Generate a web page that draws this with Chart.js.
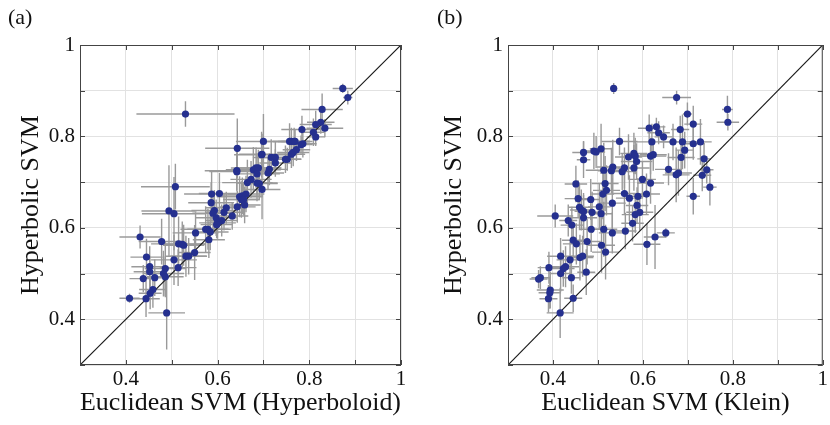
<!DOCTYPE html>
<html lang="en">
<head>
  <meta charset="UTF-8">
  <title>Hyperbolic vs Euclidean SVM</title>
  <script src="https://cdn.jsdelivr.net/npm/chart.js"></script>
  <style>
    body { margin: 0; background: #fff; }
    #wrap { position: relative; width: 830px; height: 425px; }
    .panel { position: absolute; top: 0; }
    .tag { position: absolute; top: 4px; font: 22px "Liberation Serif", serif; color: #111; }
  </style>
</head>
<body>
  <div id="wrap">
    <canvas id="chartA" class="panel" width="415" height="425" style="left:0"></canvas>
    <canvas id="chartB" class="panel" width="415" height="425" style="left:415px"></canvas>
    <div class="tag" style="left:8px">(a)</div>
    <div class="tag" style="left:437px">(b)</div>
  </div>

  <script>
    // axis ticks
    const axisMin = 0.3, axisMax = 1;
    const tickLabels = ['0.4', '0.6', '0.8', '1'];
    const diagonal = [0.3, 1];

    // panel (a): Euclidean SVM (Hyperboloid) vs Hyperbolic SVM
    const xA = [0.873,0.884,0.530,0.828,0.825,0.814,0.834,0.784,0.809,0.814,0.757,0.761,0.767,0.769,0.786,0.782,
      0.700,0.643,0.772,0.765,0.697,0.696,0.717,0.726,0.761,0.748,0.752,0.726,0.642,0.642,0.678,0.684,0.689,
      0.713,0.710,0.686,0.673,0.665,0.686,0.691,0.697,0.508,0.587,0.604,0.648,0.654,0.662,0.652,0.657,0.586,
      0.659,0.643,0.494,0.505,0.619,0.593,0.590,0.614,0.632,0.597,0.609,0.600,0.598,0.574,0.579,0.584,0.552,
      0.581,0.431,0.478,0.515,0.523,0.526,0.550,0.531,0.537,0.445,0.505,0.452,0.486,0.514,0.452,0.482,0.486,
      0.463,0.438,0.459,0.453,0.444,0.408,0.489];
    const yA = [0.905,0.885,0.849,0.859,0.831,0.826,0.818,0.815,0.809,0.799,0.789,0.789,0.789,0.789,0.784,0.782,
      0.789,0.774,0.771,0.765,0.761,0.760,0.754,0.754,0.761,0.750,0.750,0.742,0.725,0.723,0.727,0.731,0.731,
      0.728,0.720,0.718,0.706,0.699,0.698,0.697,0.684,0.690,0.674,0.675,0.668,0.670,0.674,0.662,0.662,0.655,
      0.650,0.646,0.637,0.631,0.644,0.638,0.632,0.634,0.626,0.622,0.616,0.611,0.607,0.597,0.597,0.591,0.589,
      0.574,0.580,0.570,0.565,0.564,0.562,0.546,0.538,0.538,0.536,0.530,0.515,0.511,0.513,0.504,0.500,0.493,
      0.491,0.489,0.465,0.457,0.445,0.446,0.414];
    const xErrA = [0.022,0.010,0.107,0.045,0.030,0.035,0.040,0.045,0.025,0.020,0.050,0.040,0.035,0.030,0.030,0.025,
      0.060,0.070,0.030,0.035,0.050,0.060,0.040,0.040,0.030,0.035,0.030,0.035,0.070,0.060,0.060,0.055,0.050,
      0.040,0.035,0.050,0.045,0.055,0.045,0.040,0.040,0.075,0.060,0.045,0.050,0.045,0.040,0.040,0.035,0.050,
      0.035,0.040,0.060,0.070,0.045,0.050,0.045,0.040,0.035,0.045,0.035,0.040,0.035,0.055,0.045,0.040,0.050,
      0.035,0.045,0.050,0.060,0.050,0.045,0.035,0.045,0.040,0.035,0.050,0.040,0.045,0.040,0.035,0.045,0.040,
      0.030,0.030,0.030,0.025,0.030,0.022,0.040];
    const yErrA = [0.010,0.015,0.028,0.035,0.025,0.030,0.020,0.030,0.030,0.020,0.040,0.030,0.030,0.025,0.030,0.020,
      0.060,0.065,0.025,0.030,0.045,0.050,0.040,0.035,0.030,0.030,0.025,0.030,0.045,0.040,0.050,0.045,0.040,
      0.035,0.035,0.045,0.040,0.050,0.040,0.035,0.065,0.050,0.050,0.045,0.045,0.040,0.040,0.040,0.035,0.045,
      0.040,0.035,0.100,0.080,0.035,0.045,0.040,0.040,0.030,0.040,0.035,0.035,0.030,0.050,0.045,0.040,0.045,
      0.040,0.025,0.050,0.060,0.050,0.045,0.060,0.045,0.040,0.040,0.055,0.045,0.060,0.040,0.035,0.050,0.045,
      0.040,0.030,0.040,0.035,0.040,0.010,0.080];

    // panel (b): Euclidean SVM (Klein) vs Hyperbolic SVM
    const xB = [0.535,0.675,0.788,0.789,0.699,0.712,0.614,0.630,0.635,0.646,0.683,0.620,0.548,0.667,0.688,0.728,
      0.712,0.507,0.491,0.496,0.468,0.693,0.580,0.583,0.568,0.617,0.623,0.685,0.468,0.586,0.736,0.533,0.580,
      0.559,0.513,0.530,0.554,0.657,0.674,0.679,0.742,0.732,0.451,0.599,0.617,0.516,0.749,0.519,0.511,0.559,
      0.608,0.712,0.456,0.570,0.589,0.484,0.532,0.587,0.459,0.463,0.468,0.503,0.487,0.507,0.593,0.583,0.405,
      0.468,0.434,0.442,0.577,0.485,0.513,0.561,0.532,0.651,0.627,0.445,0.476,0.452,0.609,0.508,0.517,0.417,
      0.460,0.466,0.438,0.391,0.428,0.423,0.417,0.474,0.441,0.372,0.368,0.394,0.393,0.390,0.445,0.416];
    const yB = [0.905,0.885,0.859,0.831,0.849,0.827,0.818,0.821,0.808,0.799,0.815,0.788,0.789,0.788,0.788,0.788,
      0.784,0.773,0.768,0.766,0.765,0.770,0.763,0.757,0.755,0.757,0.760,0.754,0.749,0.745,0.751,0.733,0.731,
      0.731,0.726,0.725,0.723,0.728,0.716,0.720,0.727,0.715,0.696,0.706,0.698,0.697,0.689,0.682,0.674,0.675,
      0.674,0.669,0.664,0.665,0.669,0.662,0.654,0.649,0.645,0.639,0.636,0.646,0.634,0.631,0.634,0.629,0.626,
      0.622,0.616,0.606,0.610,0.597,0.597,0.593,0.589,0.589,0.580,0.573,0.570,0.565,0.564,0.562,0.547,0.538,
      0.535,0.538,0.530,0.513,0.515,0.511,0.500,0.503,0.491,0.491,0.488,0.464,0.458,0.445,0.446,0.414];
    const xErrB = [0.008,0.032,0.012,0.025,0.010,0.020,0.025,0.020,0.025,0.020,0.020,0.040,0.040,0.030,0.030,0.025,
      0.025,0.025,0.020,0.020,0.025,0.020,0.030,0.025,0.030,0.035,0.030,0.030,0.015,0.035,0.015,0.035,0.035,
      0.030,0.040,0.030,0.030,0.030,0.030,0.030,0.015,0.020,0.025,0.030,0.030,0.030,0.015,0.030,0.025,0.025,
      0.030,0.015,0.030,0.030,0.025,0.020,0.030,0.025,0.025,0.025,0.020,0.025,0.020,0.025,0.030,0.030,0.040,
      0.030,0.020,0.025,0.025,0.025,0.030,0.025,0.030,0.020,0.025,0.025,0.030,0.030,0.030,0.030,0.030,0.030,
      0.030,0.025,0.030,0.025,0.030,0.025,0.025,0.020,0.020,0.020,0.020,0.030,0.025,0.020,0.020,0.030];
    const yErrB = [0.012,0.015,0.030,0.018,0.025,0.040,0.030,0.020,0.025,0.025,0.030,0.040,0.030,0.040,0.060,0.050,
      0.035,0.055,0.040,0.035,0.025,0.040,0.045,0.040,0.050,0.040,0.035,0.040,0.040,0.040,0.035,0.060,0.050,
      0.045,0.060,0.050,0.040,0.035,0.060,0.050,0.030,0.035,0.040,0.040,0.045,0.060,0.040,0.055,0.055,0.045,
      0.045,0.040,0.040,0.050,0.040,0.045,0.055,0.040,0.050,0.045,0.040,0.050,0.045,0.040,0.040,0.040,0.025,
      0.050,0.035,0.040,0.040,0.050,0.060,0.040,0.045,0.010,0.070,0.040,0.050,0.045,0.045,0.060,0.060,0.040,
      0.050,0.045,0.040,0.035,0.045,0.040,0.040,0.050,0.035,0.025,0.020,0.040,0.035,0.030,0.030,0.055];

    const serif = '"Liberation Serif", "Times New Roman", serif';

    // error bars under the dots, inward ticks on the four sides
    const errorBars = {
      id: 'errorBars',
      beforeDatasetsDraw(chart) {
        const { ctx, scales: { x, y } } = chart;
        const pts = chart.data.datasets[0].data;
        ctx.save();
        ctx.strokeStyle = '#9a9a9a';
        ctx.lineWidth = 1.4;
        pts.forEach(p => {
          const px = x.getPixelForValue(p.x), py = y.getPixelForValue(p.y);
          ctx.beginPath();
          ctx.moveTo(x.getPixelForValue(p.x - p.xe), py);
          ctx.lineTo(x.getPixelForValue(p.x + p.xe), py);
          ctx.moveTo(px, y.getPixelForValue(p.y - p.ye));
          ctx.lineTo(px, y.getPixelForValue(p.y + p.ye));
          ctx.stroke();
        });
        ctx.restore();
      },
      afterDraw(chart) {
        const { ctx, chartArea: a, scales: { x, y } } = chart;
        ctx.save();
        ctx.strokeStyle = '#444';
        ctx.lineWidth = 1;
        ctx.beginPath();
        x.ticks.forEach(t => {
          const px = Math.round(x.getPixelForValue(t.value)) + 0.5;
          ctx.moveTo(px, a.bottom); ctx.lineTo(px, a.bottom - 5);
          ctx.moveTo(px, a.top); ctx.lineTo(px, a.top + 5);
        });
        y.ticks.forEach(t => {
          const py = Math.round(y.getPixelForValue(t.value)) + 0.5;
          ctx.moveTo(a.left, py); ctx.lineTo(a.left + 5, py);
          ctx.moveTo(a.right, py); ctx.lineTo(a.right - 5, py);
        });
        ctx.stroke();
        ctx.strokeRect(a.left + 0.5, a.top + 0.5, a.right - a.left - 1, a.bottom - a.top - 1);
        ctx.restore();
      }
    };

    function tickText(value) {
      const v = (Math.round(value * 10) / 10).toString();
      return tickLabels.includes(v) ? v : '';
    }

    function makePanel(id, xs, ys, xe, ye, xTitle, yWidth, yTitlePad, rightPad) {
      const pts = xs.map((v, i) => ({ x: v, y: ys[i], xe: xe[i], ye: ye[i] }));
      const axis = (title, isX) => ({
        type: 'linear',
        min: axisMin,
        max: axisMax,
        ticks: {
          stepSize: 0.1,
          callback: tickText,
          autoSkip: false,
          maxRotation: 0,
          padding: isX ? 2 : 5,
          color: '#111',
          font: { family: serif, size: 21 }
        },
        grid: { color: '#e2e2e2', lineWidth: 1, drawTicks: false },
        border: { display: false },
        title: {
          display: true,
          text: title,
          color: '#111',
          font: { family: serif, size: 26 },
          padding: isX ? { top: 0, bottom: 6 } : { top: yTitlePad, bottom: 0 }
        },
        afterFit(scale) {
          if (isX) scale.height = 60; else scale.width = yWidth;
        }
      });
      return new Chart(document.getElementById(id), {
        type: 'scatter',
        data: {
          datasets: [
            {
              data: pts,
              pointRadius: 3.6,
              pointBackgroundColor: '#25308f',
              pointBorderWidth: 0,
              pointHoverRadius: 3.6
            },
            {
              data: diagonal.map(v => ({ x: v, y: v })),
              showLine: true,
              borderColor: '#1a1a1a',
              borderWidth: 1.2,
              pointRadius: 0
            }
          ]
        },
        options: {
          responsive: false,
          animation: false,
          devicePixelRatio: 1,
          layout: { padding: { left: 0, top: 45, right: rightPad, bottom: 0 } },
          plugins: { legend: { display: false }, tooltip: { enabled: false } },
          scales: {
            x: axis(xTitle, true),
            y: axis('Hyperbolic SVM', false)
          }
        },
        plugins: [errorBars]
      });
    }

    makePanel('chartA', xA, yA, xErrA, yErrA, 'Euclidean SVM (Hyperboloid)', 80, 16, 14);
    makePanel('chartB', xB, yB, xErrB, yErrB, 'Euclidean SVM (Klein)', 93, 24, 1);
  </script>
</body>
</html>
